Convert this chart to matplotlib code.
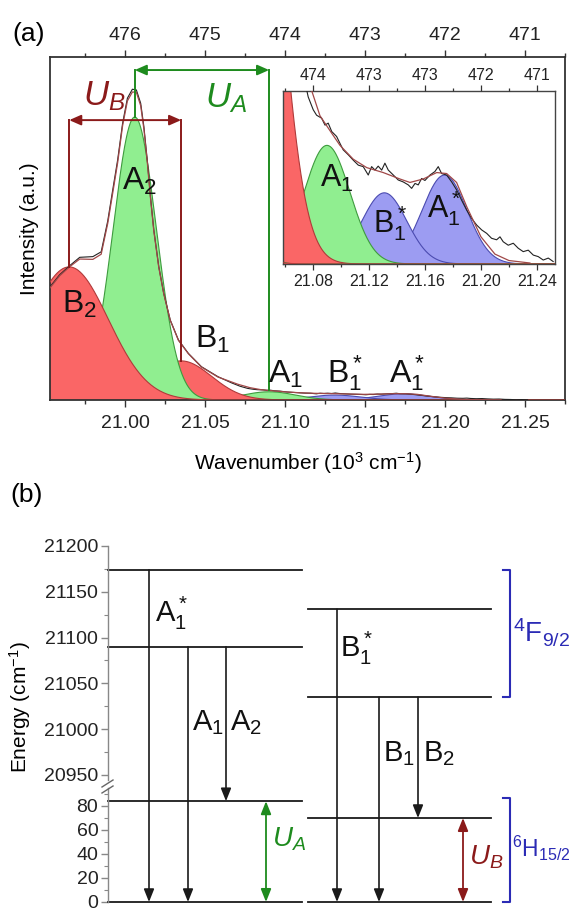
import numpy as np
import matplotlib
matplotlib.use('Agg')
import matplotlib.pyplot as plt
from matplotlib.patches import ConnectionPatch
from matplotlib.lines import Line2D

plt.rcParams['font.family'] = ['Liberation Sans', 'DejaVu Sans']
plt.rcParams['mathtext.fontset'] = 'custom'
plt.rcParams['mathtext.rm'] = 'Liberation Sans'
plt.rcParams['mathtext.it'] = 'Liberation Sans:italic'
plt.rcParams['mathtext.bf'] = 'Liberation Sans:bold'

# ---------------- data ----------------
# energy levels (cm^-1)
level_A1s = 21174
level_A = 21090
level_B1s = 21131
level_B = 21035
U_A = 84
U_B = 70
H_top = 87

# fitted peaks (transition upper level, lower level) and read heights / widths
peak_names = ['A1*', 'B1*', 'A1', 'B1', 'A2', 'B2']
peak_upper = [21174, 21131, 21090, 21035, 21090, 21035]
peak_lower = [0, 0, 0, 0, 84, 70]
peak_height = [0.018, 0.0144, 0.024, 0.114, 0.825, 0.388]
peak_sigma = [0.016, 0.016, 0.0164, 0.019, 0.0135, 0.0245]
peak_family = ['blue', 'blue', 'green', 'red', 'green', 'red']

# fitted envelope (10^3 cm^-1, a.u.)
fit_x = [20.953, 20.959, 20.9654, 20.9716, 20.9798, 20.985, 20.9891, 20.9922,
         20.9953, 20.9984, 21.0014, 21.0045, 21.007, 21.0097, 21.0117, 21.0138,
         21.0158, 21.0179, 21.021, 21.0241, 21.0282, 21.0333, 21.0395, 21.0477,
         21.058, 21.0704, 21.078, 21.085, 21.0921, 21.0993, 21.1088, 21.1184,
         21.1302, 21.1421, 21.1493, 21.1588, 21.1684, 21.1755, 21.1826, 21.19,
         21.20, 21.21, 21.22, 21.235]
fit_y = [0.327, 0.362, 0.389, 0.411, 0.410, 0.425, 0.515, 0.603,
         0.692, 0.800, 0.872, 0.898, 0.897, 0.858, 0.790, 0.695,
         0.590, 0.493, 0.387, 0.310, 0.232, 0.174, 0.135, 0.096,
         0.067, 0.046, 0.036, 0.030, 0.027, 0.024, 0.0212, 0.0195,
         0.0185, 0.0172, 0.0165, 0.0172, 0.0185, 0.0183, 0.0165, 0.0115,
         0.0055, 0.0020, 0.0007, 0.0002]

# measured spectrum
data_x = [20.953, 20.959, 20.9654, 20.9716, 20.9798, 20.985, 20.9891, 20.9922,
          20.9953, 20.9984, 21.0014, 21.0045, 21.007, 21.0097, 21.0117, 21.0138,
          21.0158, 21.0179, 21.021, 21.0241, 21.0282, 21.0333, 21.0395, 21.0477,
          21.058, 21.0665, 21.0719, 21.0766, 21.0802, 21.0826, 21.0862, 21.0886,
          21.0909, 21.0934, 21.0969, 21.0993, 21.1016, 21.1052, 21.1088, 21.1124,
          21.1159, 21.1195, 21.1219, 21.1243, 21.1266, 21.1291, 21.1314, 21.1338,
          21.1374, 21.1409, 21.1445, 21.1481, 21.1505, 21.1529, 21.1552, 21.1576,
          21.1600, 21.1636, 21.1671, 21.1695, 21.1719, 21.1755, 21.1791, 21.1826,
          21.1862, 21.1898, 21.1934, 21.1969, 21.2005, 21.2041, 21.2076, 21.2112,
          21.2136, 21.2159, 21.2195, 21.2231, 21.2266, 21.2302, 21.2338, 21.2374,
          21.2409, 21.2445, 21.2481, 21.2516]
data_y = [0.330, 0.365, 0.392, 0.416, 0.418, 0.432, 0.522, 0.612,
          0.700, 0.807, 0.880, 0.906, 0.904, 0.865, 0.797, 0.700,
          0.593, 0.496, 0.389, 0.311, 0.233, 0.175, 0.136, 0.097,
          0.068, 0.050, 0.040, 0.0338, 0.0312, 0.0301, 0.0295, 0.0281,
          0.0285, 0.0268, 0.0258, 0.0244, 0.0231, 0.0221, 0.0210, 0.0200,
          0.0197, 0.0180, 0.0197, 0.0190, 0.0198, 0.0190, 0.0204, 0.0190,
          0.0180, 0.0170, 0.0166, 0.0160, 0.0153, 0.0163, 0.0160, 0.0173,
          0.0169, 0.0180, 0.0187, 0.0197, 0.0183, 0.0180, 0.0166, 0.0150,
          0.0129, 0.0109, 0.0092, 0.0079, 0.0069, 0.0062, 0.0052, 0.0049,
          0.0055, 0.0045, 0.0038, 0.0042, 0.0032, 0.0025, 0.0028, 0.0018,
          0.0015, 0.0008, 0.0012, 0.0005]

main_ticks = [21.00, 21.05, 21.10, 21.15, 21.20, 21.25]
main_tick_labels = ['21.00', '21.05', '21.10', '21.15', '21.20', '21.25']
main_top_labels = ['476', '475', '474', '473', '472', '471']
inset_ticks = [21.08, 21.12, 21.16, 21.20, 21.24]
inset_tick_labels = ['21.08', '21.12', '21.16', '21.20', '21.24']
inset_top_labels = ['474', '473', '473', '472', '471']

# ---------------- styles ----------------
fills = {'red': ('#FA6666', '#B03A3A'),
         'green': ('#90EE90', '#3E9B3E'),
         'blue': ('#9C9CF2', '#4B4BB0')}
C_UB = '#8B1A1A'
C_UA = '#1E8B1E'
C_TERM = '#2B2BB5'
C_FIT = '#A04848'
SPINE = '#333333'

W, H = 571, 911
fig = plt.figure(figsize=(W / 100, H / 100), dpi=100)


def fa(l, t, r, b):
    return [l / W, 1 - b / H, (r - l) / W, (b - t) / H]


xg = np.linspace(20.90, 21.32, 2000)
centers = [(u - l) / 1000 for u, l in zip(peak_upper, peak_lower)]


def draw_peaks(a):
    for i, (c, h, s, fam) in enumerate(zip(centers, peak_height, peak_sigma, peak_family)):
        y = h * np.exp(-(xg - c) ** 2 / (2 * s ** 2))
        fc, ec = fills[fam]
        a.fill_between(xg, 0, y, facecolor=fc, edgecolor='none', zorder=2 + i * 0.1)
        a.plot(xg, y, color=ec, lw=0.8, zorder=2.05 + i * 0.1)


# ---------------- panel (a) ----------------
ax = fig.add_axes(fa(50, 57, 565, 400))
draw_peaks(ax)
ax.plot(data_x, data_y, color='#222222', lw=0.8, zorder=5)
ax.plot(fit_x, fit_y, color=C_FIT, lw=0.9, zorder=5.1)
ax.set_xlim(20.953, 21.271)
ax.set_ylim(0, 1.0)
ax.set_yticks([])
ax.set_xticks(main_ticks)
ax.set_xticklabels(main_tick_labels, fontsize=14)
ax.set_xticks([t + 0.025 for t in main_ticks] + [20.975], minor=True)
ax.tick_params(axis='x', which='major', direction='out', length=5, width=1.0, pad=6, colors=SPINE, labelcolor='#222')
ax.tick_params(axis='x', which='minor', direction='out', length=3, width=1.0, colors=SPINE)
for sp in ax.spines.values():
    sp.set_linewidth(1.3)
    sp.set_color(SPINE)
ax.set_xlabel('Wavenumber (10$^3$ cm$^{-1}$)', fontsize=15, labelpad=13)
ax.set_ylabel('Intensity (a.u.)', fontsize=15, labelpad=8)

axt = ax.twiny()
axt.set_xlim(ax.get_xlim())
axt.set_xticks(main_ticks)
axt.set_xticklabels(main_top_labels, fontsize=14)
axt.set_xticks([t + 0.025 for t in main_ticks] + [20.975], minor=True)
axt.tick_params(axis='x', which='major', direction='out', length=5, width=1.0, pad=4, colors=SPINE, labelcolor='#222')
axt.tick_params(axis='x', which='minor', direction='out', length=3, width=1.0, colors=SPINE)
for sp in axt.spines.values():
    sp.set_visible(False)

# U_B / U_A brackets
xB2 = (level_B - U_B) / 1000
xB1 = level_B / 1000
xA2 = (level_A - U_A) / 1000
xA1 = level_A / 1000
yUB, yUA = 0.816, 0.962
hB2 = peak_height[peak_names.index('B2')]
hB1 = peak_height[peak_names.index('B1')]
hA2 = peak_height[peak_names.index('A2')]
hA1 = float(np.interp(xA1, fit_x, fit_y))
ax.plot([xB2, xB2], [hB2, yUB], color=C_UB, lw=1.4, zorder=6)
ax.plot([xB1, xB1], [hB1, yUB], color=C_UB, lw=1.4, zorder=6)
ax.annotate('', xy=(xB2, yUB), xytext=(xB1, yUB),
            arrowprops=dict(arrowstyle='<|-|>,head_length=0.5,head_width=0.22', color=C_UB,
                            lw=1.4, shrinkA=0, shrinkB=0, mutation_scale=14), zorder=6)
ax.plot([xA2, xA2], [hA2, yUA], color=C_UA, lw=1.4, zorder=6)
ax.plot([xA1, xA1], [hA1, yUA], color=C_UA, lw=1.4, zorder=6)
ax.annotate('', xy=(xA2, yUA), xytext=(xA1, yUA),
            arrowprops=dict(arrowstyle='<|-|>,head_length=0.5,head_width=0.22', color=C_UA,
                            lw=1.4, shrinkA=0, shrinkB=0, mutation_scale=14), zorder=6)

ax.text(20.9735, 0.860, r'$U_B$', color=C_UB, fontsize=25, va='baseline', zorder=7)
ax.text(21.050, 0.854, r'$U_A$', color=C_UA, fontsize=25, va='baseline', zorder=7)
lab_kw = dict(fontsize=23, va='baseline', color='#111111', zorder=7)
ax.text(20.9981, 0.612, r'$\mathrm{A}_2$', **lab_kw)
ax.text(20.9605, 0.254, r'$\mathrm{B}_2$', **lab_kw)
ax.text(21.0438, 0.152, r'$\mathrm{B}_1$', **lab_kw)
ax.text(21.0895, 0.050, r'$\mathrm{A}_1$', **lab_kw)
ax.text(21.1265, 0.050, r'$\mathrm{B}_1^*$', **lab_kw)
ax.text(21.1648, 0.050, r'$\mathrm{A}_1^*$', **lab_kw)

# inset
axi = fig.add_axes(fa(283, 91, 555, 264))
axi.set_facecolor('white')
draw_peaks(axi)
axi.plot(data_x, data_y, color='#222222', lw=0.8, zorder=5)
axi.plot(fit_x, fit_y, color=C_FIT, lw=0.9, zorder=5.1)
axi.set_xlim(21.0586, 21.2529)
axi.set_ylim(0, 0.035)
axi.set_yticks([])
axi.set_xticks(inset_ticks)
axi.set_xticklabels(inset_tick_labels, fontsize=11.5)
axi.set_xticks([t + 0.02 for t in inset_ticks[:-1]] + [21.06], minor=True)
axi.tick_params(axis='x', which='major', direction='out', length=4, width=0.9, pad=3, colors=SPINE, labelcolor='#222')
axi.tick_params(axis='x', which='minor', direction='out', length=2.5, width=0.9, colors=SPINE)
for sp in axi.spines.values():
    sp.set_linewidth(1.0)
    sp.set_color('#444444')
axit = axi.twiny()
axit.set_xlim(axi.get_xlim())
axit.set_xticks(inset_ticks)
axit.set_xticklabels(inset_top_labels, fontsize=11.5)
axit.set_xticks([t + 0.02 for t in inset_ticks[:-1]] + [21.06], minor=True)
axit.tick_params(axis='x', which='major', direction='out', length=4, width=0.9, pad=2, colors=SPINE, labelcolor='#222')
axit.tick_params(axis='x', which='minor', direction='out', length=2.5, width=0.9, colors=SPINE)
for sp in axit.spines.values():
    sp.set_visible(False)
ilab = dict(fontsize=22, va='baseline', color='#111111', zorder=7)
axi.text(21.085, 0.01558, r'$\mathrm{A}_1$', **ilab)
axi.text(21.1229, 0.00647, r'$\mathrm{B}_1^*$', **ilab)
axi.text(21.1614, 0.00931, r'$\mathrm{A}_1^*$', **ilab)

fig.text(12 / W, 1 - 34 / H, '(a)', fontsize=19, va='center', ha='left')
fig.text(10 / W, 1 - 495 / H, '(b)', fontsize=19, va='center', ha='left')

# ---------------- panel (b) ----------------
axu = fig.add_axes(fa(108, 546, 571, 780))
axl = fig.add_axes(fa(108, 788, 571, 902))
for a in (axu, axl):
    a.set_xlim(108, 571)
    a.set_xticks([])
    a.patch.set_visible(False)
    for k in ('top', 'right', 'bottom'):
        a.spines[k].set_visible(False)
    a.spines['left'].set_color('#888888')
    a.spines['left'].set_linewidth(1.0)
    a.tick_params(axis='y', which='major', direction='out', length=5, width=1.0, colors='#888888',
                  labelcolor='#222', labelsize=14, pad=2)
    a.tick_params(axis='y', which='minor', direction='out', length=3, width=0.8, colors='#888888')
axu.set_ylim(20944.5, 21200)
axu.set_yticks([20950, 21000, 21050, 21100, 21150, 21200])
axu.set_yticks([20975, 21025, 21075, 21125, 21175], minor=True)
axl.set_ylim(0, 95)
axl.set_yticks([0, 20, 40, 60, 80])
axl.set_yticks([10, 30, 50, 70, 90], minor=True)
fig.text(20 / W, 1 - 707 / H, 'Energy (cm$^{-1}$)', rotation=90, fontsize=15, ha='center', va='center')

LK = '#1a1a1a'
left_span = (108, 302)
right_span = (308, 491)
for E, span in [(level_A1s, left_span), (level_A, left_span), (level_B1s, right_span), (level_B, right_span)]:
    axu.plot(span, [E, E], color=LK, lw=1.3, clip_on=False)
for E, span in [(U_A, left_span), (0, left_span), (U_B, right_span), (0, right_span)]:
    axl.plot(span, [E, E], color=LK, lw=1.3, clip_on=False)

arrows = [(149, level_A1s, 0), (188, level_A, 0), (226, level_A, U_A),
          (337, level_B1s, 0), (379, level_B, 0), (418, level_B, U_B)]
for x, e1, e0 in arrows:
    con = ConnectionPatch(xyA=(x, e1), coordsA=axu.transData, xyB=(x, e0), coordsB=axl.transData,
                          arrowstyle='-|>,head_length=0.55,head_width=0.22', mutation_scale=14,
                          shrinkA=0, shrinkB=0, lw=1.2, color=LK)
    fig.add_artist(con)

axl.annotate('', xy=(266, U_A), xytext=(266, 0),
             arrowprops=dict(arrowstyle='<|-|>,head_length=0.55,head_width=0.22', color=C_UA, lw=1.3,
                             shrinkA=0, shrinkB=0, mutation_scale=14), annotation_clip=False)
axl.annotate('', xy=(463, U_B), xytext=(463, 0),
             arrowprops=dict(arrowstyle='<|-|>,head_length=0.55,head_width=0.22', color=C_UB, lw=1.3,
                             shrinkA=0, shrinkB=0, mutation_scale=14), annotation_clip=False)

# brackets
axu.plot([503, 510, 510, 503], [level_A1s, level_A1s, level_B, level_B], color=C_TERM, lw=1.5, clip_on=False)
axl.plot([503, 510, 510, 503], [H_top, H_top, 0, 0], color=C_TERM, lw=1.5, clip_on=False)
axu.text(513, 21095, r'$^4\mathrm{F}_{9/2}$', color=C_TERM, fontsize=20, va='baseline')
axl.text(512, 37.7, r'$^6\mathrm{H}_{15/2}$', color=C_TERM, fontsize=16.5, va='baseline')

blab = dict(fontsize=21, va='baseline', color='#111111')
axu.text(155, 21117, r'$\mathrm{A}_1^*$', **blab)
axu.text(192, 20999, r'$\mathrm{A}_1$', **blab)
axu.text(230, 20999, r'$\mathrm{A}_2$', **blab)
axu.text(340, 21079, r'$\mathrm{B}_1^*$', **blab)
axu.text(383, 20965, r'$\mathrm{B}_1$', **blab)
axu.text(423, 20965, r'$\mathrm{B}_2$', **blab)
axl.text(272, 45.9, r'$U_A$', color=C_UA, fontsize=20, va='baseline')
axl.text(469, 31.1, r'$U_B$', color=C_UB, fontsize=20, va='baseline')

# axis break marks
for dy in (0, 6):
    fig.add_artist(Line2D([102 / W, 113 / W], [1 - (787 + dy) / H, 1 - (780 + dy) / H],
                          transform=fig.transFigure, color='#666666', lw=1.0))

fig.savefig('out.png', dpi=100)
